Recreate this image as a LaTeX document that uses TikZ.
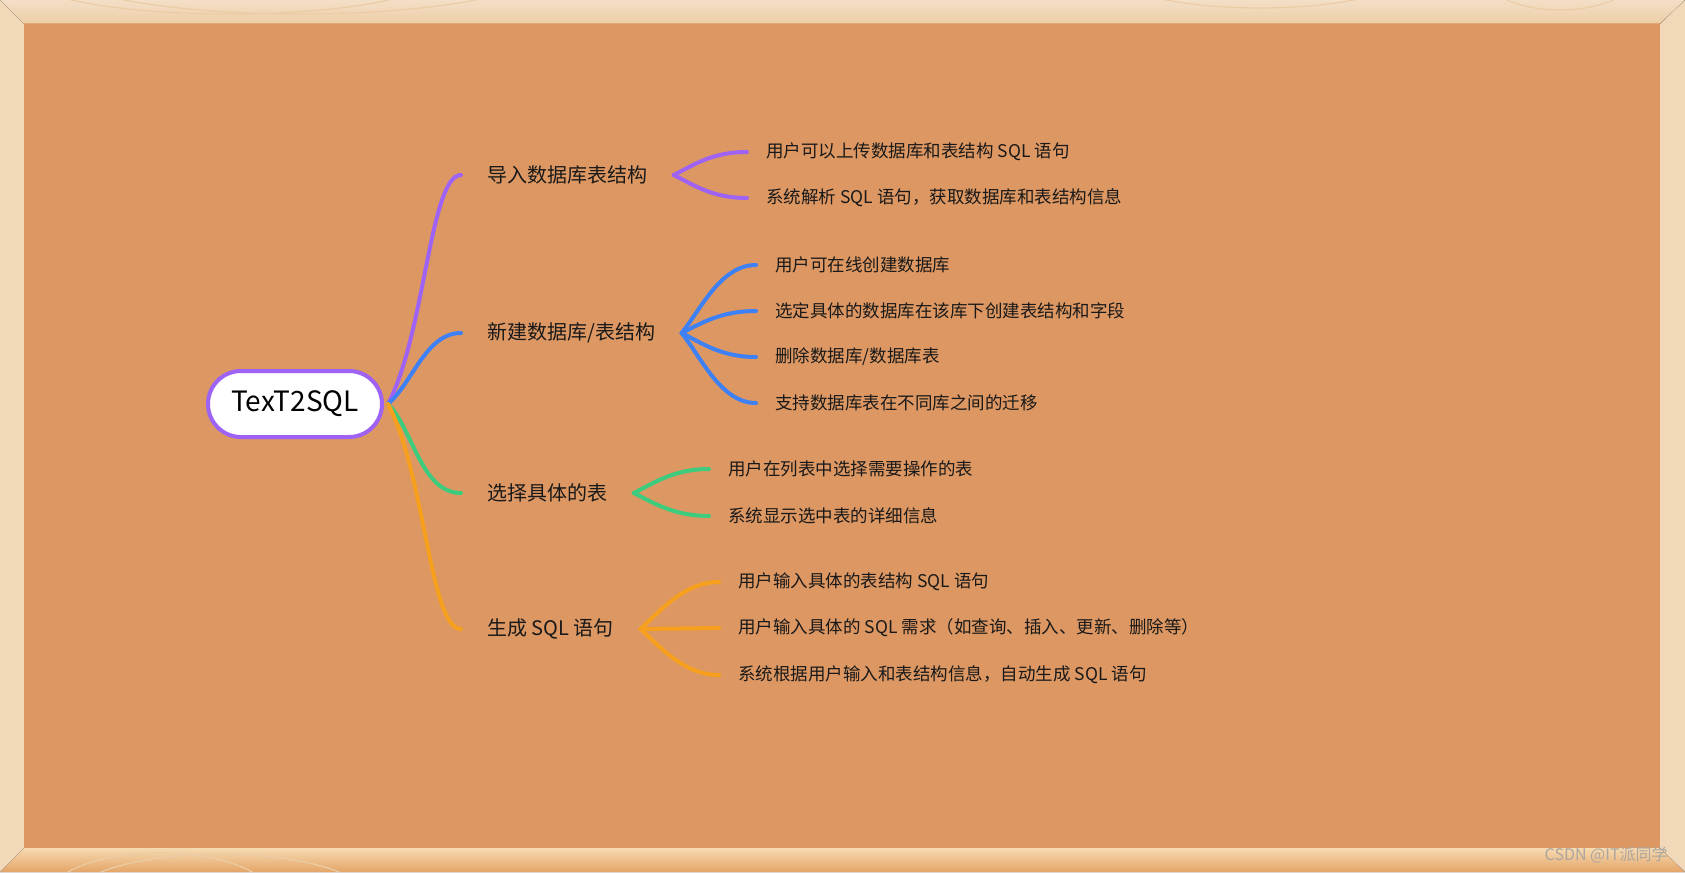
\documentclass[tikz,border=0pt]{standalone}
\usepackage{fontspec}
\setmainfont{Noto Sans CJK SC}

\definecolor{cork}{RGB}{220,151,98}
\definecolor{woodA}{RGB}{243,223,198}
\definecolor{woodB}{RGB}{237,205,166}
\definecolor{woodC}{RGB}{246,218,176}
\definecolor{woodD}{RGB}{228,164,104}
\definecolor{woodE}{RGB}{249,233,213}
\definecolor{woodF}{RGB}{241,216,184}
\definecolor{grain}{RGB}{236,204,164}
\definecolor{seam}{RGB}{226,168,115}
\definecolor{lilac}{RGB}{158,99,245}
\definecolor{azure}{RGB}{62,128,246}
\definecolor{mint}{RGB}{61,203,125}
\definecolor{amber}{RGB}{247,160,30}
\definecolor{ink}{RGB}{25,25,25}
\definecolor{mark}{RGB}{172,166,160}

\begin{document}
\begin{tikzpicture}[x=0.5pt,y=0.5pt,yscale=-1,xscale=1,
    pline/.style={line width=2pt,line cap=round},
    lvl/.style={anchor=west,inner xsep=13pt,inner ysep=2pt,text=ink,font=\fontsize{10pt}{12pt}\selectfont},
    leaf/.style={anchor=west,inner xsep=9.5pt,inner ysep=2pt,text=ink,font=\fontsize{8.75pt}{10.5pt}\selectfont},
    grainline/.style={grain,line width=0.6pt}]
\useasboundingbox (0,0) rectangle (1685,872);

%Frame
\fill[top color=woodA,bottom color=woodB] (0,0) -- (1685,0) -- (1660,24) -- (24,24) -- cycle;
\fill[top color=woodC,middle color=woodA,bottom color=woodD] (0,872) -- (24,848) -- (1660,848) -- (1685,872) -- cycle;
\fill[left color=woodF,middle color=woodE,right color=woodF] (0,0) -- (24,24) -- (24,848) -- (0,872) -- cycle;
\fill[left color=woodF,middle color=woodE,right color=woodF] (1685,0) -- (1660,24) -- (1660,848) -- (1685,872) -- cycle;
\begin{scope}
\clip (0,0) -- (1685,0) -- (1660,24) -- (24,24) -- cycle;
\draw[grainline] (230,-22) ellipse (200 and 36);
\draw[grainline] (300,-30) ellipse (240 and 44);
\draw[grainline] (1260,-40) ellipse (170 and 48);
\draw[grainline] (1560,-30) ellipse (80 and 40);
\end{scope}
\begin{scope}
\clip (0,872) -- (24,848) -- (1660,848) -- (1685,872) -- cycle;
\draw[grainline] (160,895) ellipse (110 and 42);
\draw[grainline] (220,900) ellipse (150 and 46);
\end{scope}
%Board
\fill[cork] (24,24) rectangle (1660,848);
\draw[seam,line width=0.5pt] (24,24) -- (1660,24);

% Root Node
\node[draw=lilac,fill=white,line width=2pt,rounded corners=16.5pt,minimum width=87pt,minimum height=33pt,inner sep=0pt,text=black,font=\fontsize{14pt}{17pt}\selectfont] (root) at (295,404) {TexT2SQL};

% Text Node
\node[lvl] (imp) at (461,175) {导入数据库表结构};
\node[lvl] (new) at (461,333) {新建数据库/表结构};
\node[lvl] (sel) at (461,493) {选择具体的表};
\node[lvl] (gen) at (461,629) {生成 SQL 语句};

% Text Node
\node[leaf] (imp1) at (747,152) {用户可以上传数据库和表结构 SQL 语句};
\node[leaf] (imp2) at (747,198) {系统解析 SQL 语句，获取数据库和表结构信息};
\node[leaf] (new1) at (756,265) {用户可在线创建数据库};
\node[leaf] (new2) at (756,311) {选定具体的数据库在该库下创建表结构和字段};
\node[leaf] (new3) at (756,357) {删除数据库/数据库表};
\node[leaf] (new4) at (756,403) {支持数据库表在不同库之间的迁移};
\node[leaf] (sel1) at (709,469) {用户在列表中选择需要操作的表};
\node[leaf] (sel2) at (709,516) {系统显示选中表的详细信息};
\node[leaf] (gen1) at (719,582) {用户输入具体的表结构 SQL 语句};
\node[leaf] (gen2) at (719,628) {用户输入具体的 SQL 需求（如查询、插入、更新、删除等）};
\node[leaf] (gen3) at (719,675) {系统根据用户输入和表结构信息，自动生成 SQL 语句};

%Curve Lines
\draw[pline,lilac] ([xshift=2pt]root.east) .. controls +(37,-70) and +(-31,0) .. (imp.west);
\draw[pline,azure] ([xshift=2pt]root.east) .. controls +(25,-22) and +(-35,0) .. (new.west);
\draw[pline,mint] ([xshift=2pt]root.east) .. controls +(25,25) and +(-40,0) .. (sel.west);
\draw[pline,amber] ([xshift=2pt]root.east) .. controls +(37,70) and +(-31,0) .. (gen.west);

%Curve Lines
\draw[pline,lilac] (imp.east) .. controls +(20,-10) and +(-35,0) .. (imp1.west);
\draw[pline,lilac] (imp.east) .. controls +(20,10) and +(-35,0) .. (imp2.west);
\draw[pline,azure] (new.east) .. controls +(20,-25) and +(-35,0) .. (new1.west);
\draw[pline,azure] (new.east) .. controls +(20,-10) and +(-35,0) .. (new2.west);
\draw[pline,azure] (new.east) .. controls +(20,10) and +(-35,0) .. (new3.west);
\draw[pline,azure] (new.east) .. controls +(20,25) and +(-35,0) .. (new4.west);
\draw[pline,mint] (sel.east) .. controls +(20,-10) and +(-35,0) .. (sel1.west);
\draw[pline,mint] (sel.east) .. controls +(20,10) and +(-35,0) .. (sel2.west);
\draw[pline,amber] (gen.east) .. controls +(20,-18) and +(-35,0) .. (gen1.west);
\draw[pline,amber] (gen.east) -- (gen2.west);
\draw[pline,amber] (gen.east) .. controls +(20,18) and +(-35,0) .. (gen3.west);

% Text Node
\node[anchor=east,inner sep=0pt,text=mark,font=\fontsize{8pt}{9pt}\selectfont] (sign) at (1668,855) {CSDN @IT派同学};

\end{tikzpicture}
\end{document}
